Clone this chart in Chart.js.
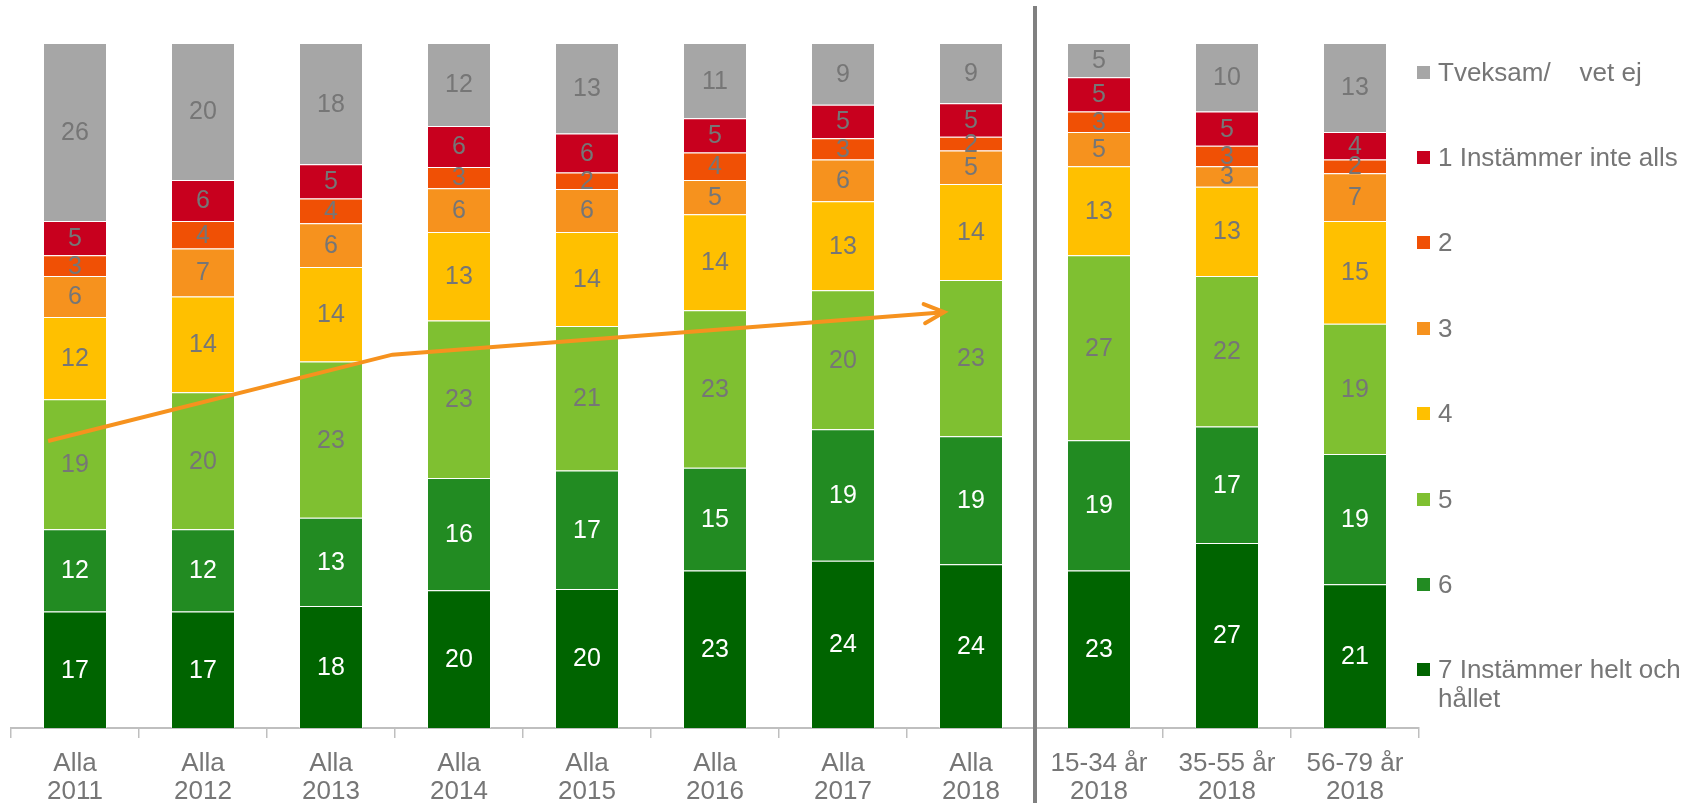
<!DOCTYPE html>
<html>
<head>
<meta charset="utf-8">
<script src="https://cdn.jsdelivr.net/npm/chart.js@4.4.0/dist/chart.umd.min.js"></script>
<style>
    html, body { margin: 0; padding: 0; background: #fff; }
    #wrap { position: relative; width: 1688px; height: 803px; overflow: hidden; }
    #legend { position: absolute; left: 1417px; top: 0; font-family: "Liberation Sans", Arial, sans-serif; font-size: 26px; color: #767676; }
    .item { position: absolute; left: 0; white-space: pre; line-height: 29px; }
    .box { position: absolute; left: 0; top: 8px; width: 13px; height: 13px; }
    .txt { position: absolute; left: 21px; top: 0; }
</style>
</head>
<body>
<div id="wrap">
    <canvas id="chart" width="1688" height="803"></canvas>
    <div id="legend"></div>
</div>
<script>
// Nhãn trục x
const categories = [
    ['Alla', '2011'], ['Alla', '2012'], ['Alla', '2013'], ['Alla', '2014'],
    ['Alla', '2015'], ['Alla', '2016'], ['Alla', '2017'], ['Alla', '2018'],
    ['15-34 år', '2018'], ['35-55 år', '2018'], ['56-79 år', '2018']
];

// Giá trị (%) từ dưới lên trên
const s7 = [17, 17, 17.8, 20.1, 20.3, 23, 24.4, 23.9, 23, 27, 21];
const s6 = [12, 12, 12.9, 16.4, 17.3, 15, 19.2, 18.7, 19, 17, 19];
const s5 = [19, 20, 22.8, 23.0, 21.1, 23, 20.3, 22.8, 27, 22, 19];
const s4 = [12, 14, 13.8, 12.9, 13.7, 14, 13.0, 14.0, 13, 13, 15];
const s3 = [6, 7, 6.4, 6.4, 6.3, 5, 6.1, 4.9, 5, 3, 7];
const s2 = [3, 4, 3.6, 3.1, 2.4, 4, 3.1, 2.0, 3, 3, 2];
const s1 = [5, 6, 5.0, 6.0, 5.7, 5, 4.9, 4.9, 5, 5, 4];
const sTveksam = [26, 20, 17.7, 12.1, 13.2, 11, 9.0, 8.8, 5, 10, 13];

const seriesNames = ['7 Instämmer helt och\nhållet', '6', '5', '4', '3', '2', '1 Instämmer inte alls', 'Tveksam/    vet ej'];
const seriesValues = [s7, s6, s5, s4, s3, s2, s1, sTveksam];
const seriesColors = ['#006400', '#228B22', '#7FC031', '#FFC000', '#F6921E', '#F05005', '#C8001E', '#A6A6A6'];
const labelColors = ['#ffffff', '#ffffff', '#767676', '#767676', '#767676', '#767676', '#767676', '#767676'];

// Mũi tên xu hướng (tọa độ theo chỉ số danh mục / %)
const trendX = [-0.21, 2.48, 6.79];
const trendY = [41.9, 54.5, 60.7];

const FONT = '"Liberation Sans", Arial, sans-serif';

// Nhãn giá trị trong cột
const valueLabels = {
    id: 'valueLabels',
    afterDatasetsDraw(chart) {
        const ctx = chart.ctx;
        ctx.save();
        ctx.font = '25px ' + FONT;
        ctx.textAlign = 'center';
        ctx.textBaseline = 'middle';
        chart.data.datasets.forEach((ds, di) => {
            if (ds.type === 'line') return;
            const meta = chart.getDatasetMeta(di);
            meta.data.forEach((bar, i) => {
                ctx.fillStyle = labelColors[di];
                ctx.fillText(String(Math.round(ds.data[i])), bar.x, (bar.y + bar.base) / 2 + 1);
            });
        });
        ctx.restore();
    }
};

// Đầu mũi tên
const arrowHead = {
    id: 'arrowHead',
    afterDatasetsDraw(chart) {
        const idx = chart.data.datasets.findIndex(d => d.type === 'line');
        const pts = chart.getDatasetMeta(idx).data;
        const a = pts[pts.length - 2], b = pts[pts.length - 1];
        const ang = Math.atan2(b.y - a.y, b.x - a.x);
        const len = 22, spread = 0.45;
        const ctx = chart.ctx;
        ctx.save();
        ctx.strokeStyle = '#F6921E';
        ctx.lineWidth = 4;
        ctx.lineCap = 'round';
        ctx.beginPath();
        ctx.moveTo(b.x - len * Math.cos(ang - spread), b.y - len * Math.sin(ang - spread));
        ctx.lineTo(b.x, b.y);
        ctx.lineTo(b.x - len * Math.cos(ang + spread), b.y - len * Math.sin(ang + spread));
        ctx.stroke();
        ctx.restore();
    }
};

// Đường chia giữa "Alla" và nhóm tuổi
const divider = {
    id: 'divider',
    afterDraw(chart) {
        const x = chart.scales.x;
        const px = (x.getPixelForTick(7) + x.getPixelForTick(8)) / 2;
        const ctx = chart.ctx;
        ctx.save();
        ctx.strokeStyle = '#808080';
        ctx.lineWidth = 4;
        ctx.beginPath();
        ctx.moveTo(px, 6);
        ctx.lineTo(px, chart.height);
        ctx.stroke();
        ctx.restore();
    }
};

const datasets = seriesValues.map((vals, i) => ({
    type: 'bar',
    label: seriesNames[i],
    data: vals,
    backgroundColor: seriesColors[i],
    borderColor: 'rgba(255,255,255,0.45)',
    borderWidth: 1,
    barPercentage: 0.5,
    categoryPercentage: 1.0,
    grouped: false,
    order: 2
}));

datasets.push({
    type: 'line',
    label: 'trend',
    data: trendX.map((x, i) => ({ x: x, y: trendY[i] })),
    xAxisID: 'xTrend',
    yAxisID: 'yTrend',
    borderColor: '#F6921E',
    borderWidth: 4,
    pointRadius: 0,
    fill: false,
    tension: 0,
    order: 1
});

new Chart(document.getElementById('chart').getContext('2d'), {
    type: 'bar',
    data: { labels: categories, datasets: datasets },
    options: {
        responsive: false,
        animation: false,
        devicePixelRatio: 1,
        layout: { padding: { top: 43, left: 11, right: 269, bottom: 0 } },
        plugins: {
            legend: { display: false },
            tooltip: { enabled: false }
        },
        scales: {
            x: {
                stacked: true,
                offset: true,
                afterFit: (scale) => { scale.height = 75; },
                grid: {
                    offset: true,
                    drawOnChartArea: false,
                    drawTicks: true,
                    tickLength: 10,
                    color: '#BFBFBF',
                    lineWidth: 1.5
                },
                border: { display: true, color: '#BFBFBF', width: 2 },
                ticks: {
                    color: '#767676',
                    font: { family: FONT, size: 26, lineHeight: 1.08 },
                    padding: 12,
                    maxRotation: 0,
                    autoSkip: false
                }
            },
            y: {
                stacked: true,
                min: 0,
                max: 100,
                display: false
            },
            xTrend: {
                type: 'linear',
                axis: 'x',
                min: -0.5,
                max: 10.5,
                offset: false,
                display: false
            },
            yTrend: {
                type: 'linear',
                axis: 'y',
                min: 0,
                max: 100,
                display: false
            }
        }
    },
    plugins: [valueLabels, arrowHead, divider]
});

// Chú thích dạng HTML (từ trên xuống)
const legendEl = document.getElementById('legend');
const order = [7, 6, 5, 4, 3, 2, 1, 0];
order.forEach((si, k) => {
    const item = document.createElement('div');
    item.className = 'item';
    item.style.top = (72 + k * 85.4 - 14.5) + 'px';
    const box = document.createElement('div');
    box.className = 'box';
    box.style.background = seriesColors[si];
    const txt = document.createElement('div');
    txt.className = 'txt';
    txt.textContent = seriesNames[si];
    item.appendChild(box);
    item.appendChild(txt);
    legendEl.appendChild(item);
});
</script>
</body>
</html>
